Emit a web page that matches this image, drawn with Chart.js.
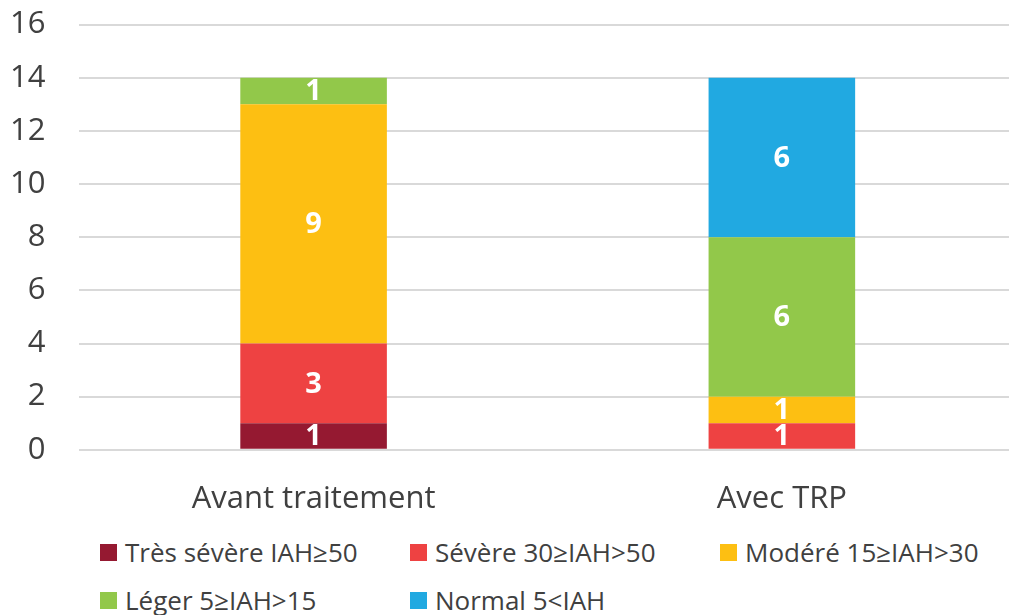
<!DOCTYPE html>
<html>
<head>
<meta charset="utf-8">
<script src="https://cdn.jsdelivr.net/npm/chart.js@4"></script>
<style>
    html, body { margin: 0; padding: 0; background: #fff; overflow: hidden; }
    #wrap { position: absolute; left: 0; top: -28px; width: 1016px; height: 543px; }
    #legend {
        position: absolute;
        left: 100px;
        top: 536px;
        display: grid;
        grid-template-columns: 310px 310px 300px;
        row-gap: 16px;
        font-family: "Open Sans", sans-serif;
        font-size: 26px;
        color: #404040;
    }
    #legend .item { display: flex; align-items: center; height: 32px; white-space: nowrap; }
    #legend .box { width: 17px; height: 17px; margin-right: 8px; }
</style>
</head>
<body>
<div id="wrap"><canvas id="severityChart"></canvas></div>
<div id="legend"></div>
<script>
const categories = ['Avant traitement', 'Avec TRP'];
const seriesNames = ['Très sévère IAH≥50', 'Sévère 30≥IAH>50', 'Modéré 15≥IAH>30', 'Léger 5≥IAH>15', 'Normal 5<IAH'];
const tresSevere = [1, 0];
const severe = [3, 1];
const modere = [9, 1];
const leger = [1, 6];
const normal = [0, 6];
const seriesColors = ['#951931', '#EE4242', '#FDBF12', '#92C84A', '#21A9E1'];

const seriesValues = [tresSevere, severe, modere, leger, normal];

// draws the white value labels in the middle of each segment
const valueLabels = {
    id: 'valueLabels',
    afterDatasetsDraw(chart) {
        const ctx = chart.ctx;
        ctx.save();
        ctx.fillStyle = '#ffffff';
        ctx.font = 'bold 29px "Open Sans", sans-serif';
        ctx.textAlign = 'center';
        ctx.textBaseline = 'middle';
        chart.data.datasets.forEach(function(ds, i) {
            chart.getDatasetMeta(i).data.forEach(function(bar, j) {
                if (!ds.data[j]) return;
                const p = bar.getProps(['x', 'y', 'base'], true);
                ctx.fillText(ds.data[j], p.x, (p.y + p.base) / 2 + 1);
            });
        });
        ctx.restore();
    }
};

var ctx = document.getElementById('severityChart').getContext('2d');
var chart = new Chart(ctx, {
    type: 'bar',
    data: {
        labels: categories,
        datasets: seriesNames.map(function(name, i) {
            return {
                label: name,
                data: seriesValues[i],
                backgroundColor: seriesColors[i],
                borderWidth: 0,
                barPercentage: 1,
                categoryPercentage: 0.313
            };
        })
    },
    plugins: [valueLabels],
    options: {
        responsive: true,
        maintainAspectRatio: false,
        animation: false,
        layout: { padding: { top: 0, right: 0, left: -24, bottom: -26 } },
        plugins: {
            legend: { display: false },
            tooltip: { enabled: false }
        },
        scales: {
            x: {
                stacked: true,
                grid: { display: false },
                border: { display: false },
                ticks: {
                    color: '#404040',
                    padding: 23,
                    font: { family: '"Open Sans", sans-serif', size: 31 }
                }
            },
            y: {
                stacked: true,
                min: 0,
                max: 16,
                border: { display: false },
                grid: { color: '#d9d9d9', lineWidth: 2, drawTicks: false },
                ticks: {
                    stepSize: 2,
                    color: '#404040',
                    padding: 34,
                    font: { family: '"Open Sans", sans-serif', size: 31 }
                }
            }
        }
    }
});

var legendEl = document.getElementById('legend');
seriesNames.forEach(function(name, i) {
    var item = document.createElement('div');
    item.className = 'item';
    var box = document.createElement('span');
    box.className = 'box';
    box.style.background = seriesColors[i];
    var label = document.createElement('span');
    label.textContent = name;
    item.appendChild(box);
    item.appendChild(label);
    legendEl.appendChild(item);
});
</script>
</body>
</html>
